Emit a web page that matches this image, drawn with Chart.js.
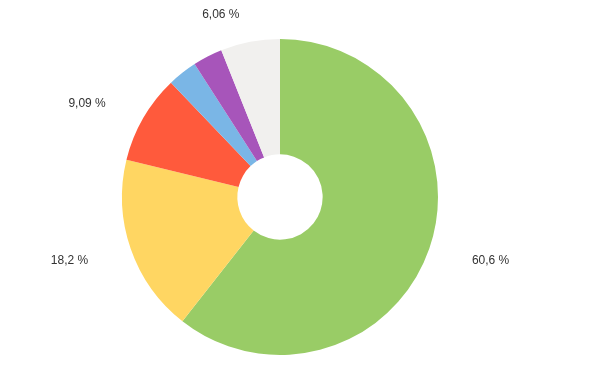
<!DOCTYPE html>
<html>
<head>
<meta charset="utf-8">
<script src="https://cdn.jsdelivr.net/npm/chart.js@4.4.0/dist/chart.umd.min.js"></script>
<style>
  html, body { margin: 0; padding: 0; background: #fff; }
  #wrap { width: 610px; height: 373px; position: relative; }
</style>
</head>
<body>
<div id="wrap"><canvas id="pie"></canvas></div>
<script>
// slice data, clockwise from 12 o'clock
const categories = ['A', 'B', 'C', 'D', 'E', 'F'];
const shares = [60.6, 18.2, 9.09, 3.03, 3.03, 6.06];
const sliceColors = ['#99cc66', '#ffd662', '#ff5a3c', '#7ab6e6', '#a755ba', '#f1f0ee'];

// small slices get no label
const minLabelShare = 5;

function formatShare(v) {
  return v.toPrecision(3).replace('.', ',') + ' %';
}

// draws percentage labels outside the ring on an ellipse around it
const outsideLabels = {
  id: 'outsideLabels',
  afterDatasetsDraw(chart) {
    const ctx = chart.ctx;
    const meta = chart.getDatasetMeta(0);
    ctx.save();
    ctx.font = '12px "Liberation Sans", Arial, sans-serif';
    ctx.fillStyle = '#333';
    ctx.textAlign = 'center';
    ctx.textBaseline = 'middle';
    meta.data.forEach((arc, i) => {
      const v = shares[i];
      if (v < minLabelShare) return;
      const p = arc.getProps(['x', 'y', 'startAngle', 'endAngle', 'outerRadius'], true);
      const mid = (p.startAngle + p.endAngle) / 2;
      let x = p.x + Math.cos(mid) * p.outerRadius * 1.41;
      let y = p.y + Math.sin(mid) * p.outerRadius * 1.2 + 2;
      // keep inside canvas
      if (y < 15) { y = 15; x -= 17; }
      y = Math.min(chart.height - 14, y);
      ctx.fillText(formatShare(v), x, y);
    });
    ctx.restore();
  }
};

new Chart(document.getElementById('pie'), {
  type: 'doughnut',
  data: {
    labels: categories,
    datasets: [{
      data: shares,
      backgroundColor: sliceColors,
      borderWidth: 0,
      hoverOffset: 0
    }]
  },
  options: {
    responsive: true,
    maintainAspectRatio: false,
    animation: false,
    cutout: '27%',
    layout: { padding: { top: 39, bottom: 18, left: 0, right: 50 } },
    plugins: {
      legend: { display: false },
      tooltip: { enabled: false }
    }
  },
  plugins: [outsideLabels]
});
</script>
</body>
</html>
